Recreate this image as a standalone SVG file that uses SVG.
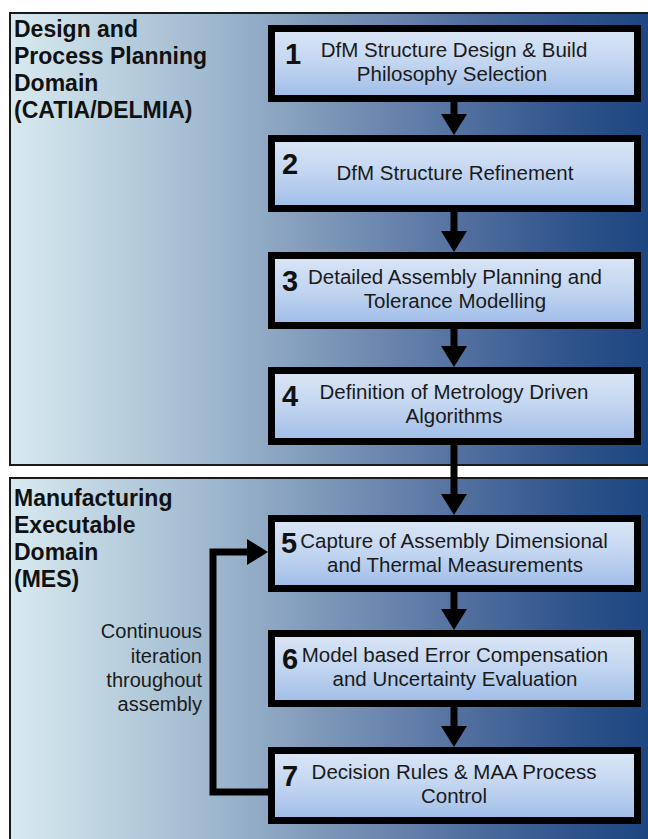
<svg xmlns="http://www.w3.org/2000/svg" width="648" height="839" viewBox="0 0 648 839">
<defs>
<linearGradient id="panelGrad" gradientUnits="userSpaceOnUse" x1="10" y1="0" x2="648" y2="0">
<stop offset="0" stop-color="#d8eaf0"/>
<stop offset="0.3" stop-color="#a2bbd0"/>
<stop offset="0.6" stop-color="#6983ac"/>
<stop offset="0.85" stop-color="#34588f"/>
<stop offset="1" stop-color="#1d457f"/>
</linearGradient>
<linearGradient id="boxGrad" x1="0" y1="0" x2="0" y2="1">
<stop offset="0" stop-color="#dbe6f6"/>
<stop offset="0.5" stop-color="#c2d5f0"/>
<stop offset="1" stop-color="#9ebce8"/>
</linearGradient>
<marker id="arrow" markerUnits="userSpaceOnUse" markerWidth="22" markerHeight="28" refX="0" refY="13" orient="auto" overflow="visible">
<path d="M0,0 L21,13 L0,26 Z" fill="#000"/>
</marker>
</defs>
<style>
.panel{fill:url(#panelGrad);stroke:#1a1a1a;stroke-width:2}
.box{fill:url(#boxGrad);stroke:#000;stroke-width:7}
.num{font-family:"Liberation Sans",Arial,sans-serif;font-weight:bold;font-size:29px;fill:#111}
.txt{font-family:"Liberation Sans",Arial,sans-serif;font-size:20.5px;fill:#1a1a1a;text-anchor:middle}
.title{font-family:"Liberation Sans",Arial,sans-serif;font-weight:bold;font-size:23px;fill:#111}
.note{font-family:"Liberation Sans",Arial,sans-serif;font-size:20px;fill:#1a1a1a;text-anchor:end}
.conn{fill:none;stroke:#000;stroke-width:7;marker-end:url(#arrow)}
</style>
<rect width="648" height="839" fill="#fff"/>
<g id="domain-design">
<rect class="panel" x="10" y="13" width="650" height="452"/>
<text class="title" x="14" y="37">Design and</text>
<text class="title" x="14" y="64">Process Planning</text>
<text class="title" x="14" y="91">Domain</text>
<text class="title" x="14" y="118">(CATIA/DELMIA)</text>
</g>
<g id="domain-mes">
<rect class="panel" x="10" y="478" width="650" height="370"/>
<text class="title" x="14" y="506">Manufacturing</text>
<text class="title" x="14" y="533">Executable</text>
<text class="title" x="14" y="560">Domain</text>
<text class="title" x="14" y="587">(MES)</text>
</g>
<g id="connectors">
<line class="conn" x1="454" y1="102" x2="454" y2="114"/>
<line class="conn" x1="454" y1="212" x2="454" y2="231"/>
<line class="conn" x1="454" y1="329" x2="454" y2="346"/>
<line class="conn" x1="454" y1="445" x2="454" y2="494"/>
<line class="conn" x1="454" y1="592" x2="454" y2="609"/>
<line class="conn" x1="454" y1="707" x2="454" y2="726"/>
<polyline class="conn" points="270,792 213,792 213,552 247,552"/>
</g>
<g id="node1">
<rect class="box" x="271.5" y="28.5" width="366" height="70"/>
<text class="num" x="285" y="64">1</text>
<text class="txt" x="454" y="57">DfM Structure Design &amp; Build</text>
<text class="txt" x="452" y="81">Philosophy Selection</text>
</g>
<g id="node2">
<rect class="box" x="271.5" y="138.5" width="366" height="70"/>
<text class="num" x="282" y="174">2</text>
<text class="txt" x="455" y="180">DfM Structure Refinement</text>
</g>
<g id="node3">
<rect class="box" x="271.5" y="255.5" width="366" height="70"/>
<text class="num" x="282" y="291">3</text>
<text class="txt" x="455" y="284">Detailed Assembly Planning and</text>
<text class="txt" x="455" y="308">Tolerance Modelling</text>
</g>
<g id="node4">
<rect class="box" x="271.5" y="370.5" width="366" height="71"/>
<text class="num" x="282" y="406">4</text>
<text class="txt" x="454" y="399">Definition of Metrology Driven</text>
<text class="txt" x="454" y="423">Algorithms</text>
</g>
<g id="node5">
<rect class="box" x="271.5" y="518.5" width="366" height="70"/>
<text class="num" x="281" y="553">5</text>
<text class="txt" x="454" y="548">Capture of Assembly Dimensional</text>
<text class="txt" x="455" y="572">and Thermal Measurements</text>
</g>
<g id="node6">
<rect class="box" x="271.5" y="633.5" width="366" height="70"/>
<text class="num" x="282" y="669">6</text>
<text class="txt" x="455" y="662">Model based Error Compensation</text>
<text class="txt" x="455" y="686">and Uncertainty Evaluation</text>
</g>
<g id="node7">
<rect class="box" x="271.5" y="750.5" width="366" height="70"/>
<text class="num" x="282" y="786">7</text>
<text class="txt" x="454" y="779">Decision Rules &amp; MAA Process</text>
<text class="txt" x="454" y="803">Control</text>
</g>
<g id="loop-label">
<text class="note" x="202" y="638">Continuous</text>
<text class="note" x="202" y="663">iteration</text>
<text class="note" x="202" y="687">throughout</text>
<text class="note" x="202" y="711">assembly</text>
</g>
</svg>
